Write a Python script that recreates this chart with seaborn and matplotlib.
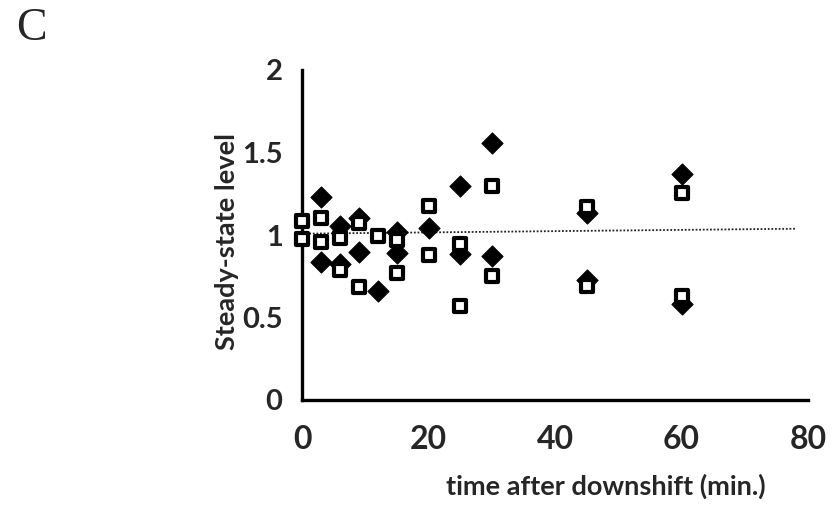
import numpy as np
import pandas as pd
import matplotlib
matplotlib.use("Agg")
import matplotlib.pyplot as plt
import seaborn as sns

nan = np.nan

# ---- data ----
time = [0, 3, 6, 9, 12, 15, 20, 25, 30, 45, 60]
diamond_upper = [nan, 1.23, 1.055, 1.10, nan, 1.02, 1.042, 1.295, 1.558, 1.133, 1.368]
diamond_lower = [nan, 0.835, 0.824, 0.90, 0.663, 0.889, nan, 0.883, 0.874, 0.728, 0.582]
square_upper = [1.086, 1.105, 0.979, 1.074, 0.995, 0.970, 1.173, 0.943, 1.297, 1.171, 1.257]
square_lower = [0.975, 0.960, 0.788, 0.687, nan, 0.768, 0.881, 0.570, 0.753, 0.688, 0.633]
trend_x = [0, 78]
trend_y = [1.008, 1.038]

x_ticks = [0, 20, 40, 60, 80]
y_ticks = [0, 0.5, 1, 1.5, 2]
y_tick_labels = ["0", "0.5", "1", "1.5", "2"]
x_label = "time after downshift (min.)"
y_label = "Steady-state level"
panel_label = "C"

diam = pd.DataFrame({"time": time * 2, "level": diamond_upper + diamond_lower}).dropna()
squa = pd.DataFrame({"time": time * 2, "level": square_upper + square_lower}).dropna()
trend = pd.DataFrame({"time": trend_x, "level": trend_y})

sns.set_theme(style="white")
plt.rcParams["font.family"] = ["Lato", "DejaVu Sans"]

fig = plt.figure(figsize=(8.36, 5.27), dpi=100)
ax = fig.add_axes([302 / 836, 1 - 400 / 527, (808 - 302) / 836, (400 - 70) / 527])

sns.lineplot(data=trend, x="time", y="level", ax=ax, color="#222222",
             linestyle=(0, (1, 1)), linewidth=1.3, zorder=1)
sns.scatterplot(data=diam, x="time", y="level", ax=ax, marker="D", s=115,
                color="black", edgecolor="black", linewidth=0.8, zorder=3, clip_on=False)
sns.scatterplot(data=squa, x="time", y="level", ax=ax, marker="s", s=72,
                facecolor="white", edgecolor="black", linewidth=3.0, zorder=4, clip_on=False)

ax.set_xlim(0, 80)
ax.set_ylim(0, 2)
ax.set_xticks(x_ticks)
ax.set_yticks(y_ticks)
ax.set_yticklabels(y_tick_labels)
for s in ["top", "right"]:
    ax.spines[s].set_visible(False)
for s in ["left", "bottom"]:
    ax.spines[s].set_linewidth(2.4)
    ax.spines[s].set_color("black")
ax.tick_params(axis="both", direction="out", length=8, width=2.4, color="black")
ax.tick_params(axis="y", labelsize=21, pad=6)
ax.tick_params(axis="x", labelsize=23, pad=10)
for lab in ax.get_xticklabels() + ax.get_yticklabels():
    lab.set_fontweight("bold")
ax.set_xlabel(x_label, fontsize=19.5, fontweight="bold", labelpad=14, x=0.60)
ax.set_ylabel(y_label, fontsize=19.5, fontweight="bold", labelpad=2, y=0.48)

fig.text(16 / 836, 1 - 8 / 527, panel_label, fontsize=33, va="top", ha="left",
         family=["Liberation Serif"])

fig.savefig("out.png", dpi=100)
